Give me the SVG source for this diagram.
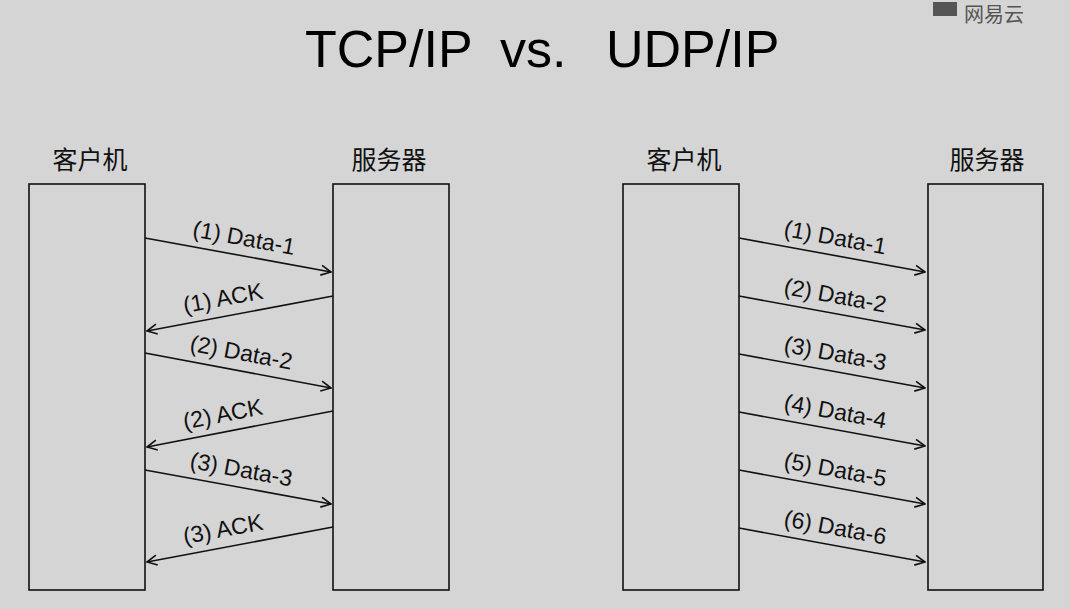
<svg xmlns="http://www.w3.org/2000/svg" width="1070" height="609" viewBox="0 0 1070 609">
<defs>
<marker id="ah" viewBox="0 0 12 12" refX="11" refY="6" markerWidth="12" markerHeight="12" markerUnits="userSpaceOnUse" orient="auto">
<polyline points="1,1 11,6 1,11" fill="none" stroke="#111" stroke-width="1.6"/>
</marker>
<style>
.box{fill:none;stroke:#111;stroke-width:1.6}
.cn{font-family:"Noto Sans CJK SC","Noto Sans",sans-serif;font-size:25px;fill:#111;text-anchor:middle}
.lbl{font-family:"Liberation Sans",Arial,sans-serif;font-size:23px;fill:#111;text-anchor:middle}
.arr{stroke:#111;stroke-width:1.6;fill:none;marker-end:url(#ah)}
.title{font-family:"Liberation Sans",Arial,sans-serif;font-size:52px;fill:#000}
.wm{font-family:"Noto Sans CJK SC",sans-serif;font-size:20px;fill:#555}
</style>
</defs>
<rect width="1070" height="609" fill="#d5d5d5"/>
<g id="watermark">
<rect x="933" y="2" width="24" height="14" fill="#555"/>
<text class="wm" x="964" y="22">网易云</text>
</g>
<text id="title" class="title" y="67"><tspan x="305">TCP/IP</tspan><tspan x="500">vs.</tspan><tspan x="606">UDP/IP</tspan></text>
<g id="tcp-client"><rect class="box" x="29" y="184" width="116" height="406"/><text class="cn" x="90" y="169">客户机</text></g>
<g id="tcp-server"><rect class="box" x="333" y="184" width="116" height="406"/><text class="cn" x="389" y="169">服务器</text></g>
<g id="udp-client"><rect class="box" x="623" y="184" width="116" height="406"/><text class="cn" x="684" y="169">客户机</text></g>
<g id="udp-server"><rect class="box" x="928" y="184" width="115" height="406"/><text class="cn" x="987" y="169">服务器</text></g>
<g id="connectors">
<line class="arr" x1="145" y1="238" x2="331" y2="272"/>
<line class="arr" x1="333" y1="296" x2="147" y2="331"/>
<line class="arr" x1="145" y1="353" x2="331" y2="388"/>
<line class="arr" x1="333" y1="411" x2="147" y2="447"/>
<line class="arr" x1="145" y1="470" x2="331" y2="504"/>
<line class="arr" x1="333" y1="527" x2="147" y2="562"/>
<line class="arr" x1="739" y1="238" x2="925" y2="272"/>
<line class="arr" x1="739" y1="296" x2="925" y2="330"/>
<line class="arr" x1="739" y1="354" x2="925" y2="388"/>
<line class="arr" x1="739" y1="412" x2="925" y2="446"/>
<line class="arr" x1="739" y1="470" x2="925" y2="504"/>
<line class="arr" x1="739" y1="528" x2="925" y2="562"/>
</g>
<g id="labels">
<text class="lbl" transform="translate(238,255) rotate(10.4)" x="3" y="-10">(1) Data-1</text>
<text class="lbl" transform="translate(240,313) rotate(-10.6)" x="-14" y="-10">(1) ACK</text>
<text class="lbl" transform="translate(238,370) rotate(10.6)" x="0" y="-10">(2) Data-2</text>
<text class="lbl" transform="translate(240,429) rotate(-10.9)" x="-14" y="-10">(2) ACK</text>
<text class="lbl" transform="translate(238,487) rotate(10.4)" x="0" y="-10">(3) Data-3</text>
<text class="lbl" transform="translate(240,544) rotate(-10.6)" x="-14" y="-10">(3) ACK</text>
<text class="lbl" transform="translate(832,255) rotate(10.4)" x="0" y="-10">(1) Data-1</text>
<text class="lbl" transform="translate(832,313) rotate(10.4)" x="0" y="-10">(2) Data-2</text>
<text class="lbl" transform="translate(832,371) rotate(10.4)" x="0" y="-10">(3) Data-3</text>
<text class="lbl" transform="translate(832,429) rotate(10.4)" x="0" y="-10">(4) Data-4</text>
<text class="lbl" transform="translate(832,487) rotate(10.4)" x="0" y="-10">(5) Data-5</text>
<text class="lbl" transform="translate(832,545) rotate(10.4)" x="0" y="-10">(6) Data-6</text>
</g>
</svg>
